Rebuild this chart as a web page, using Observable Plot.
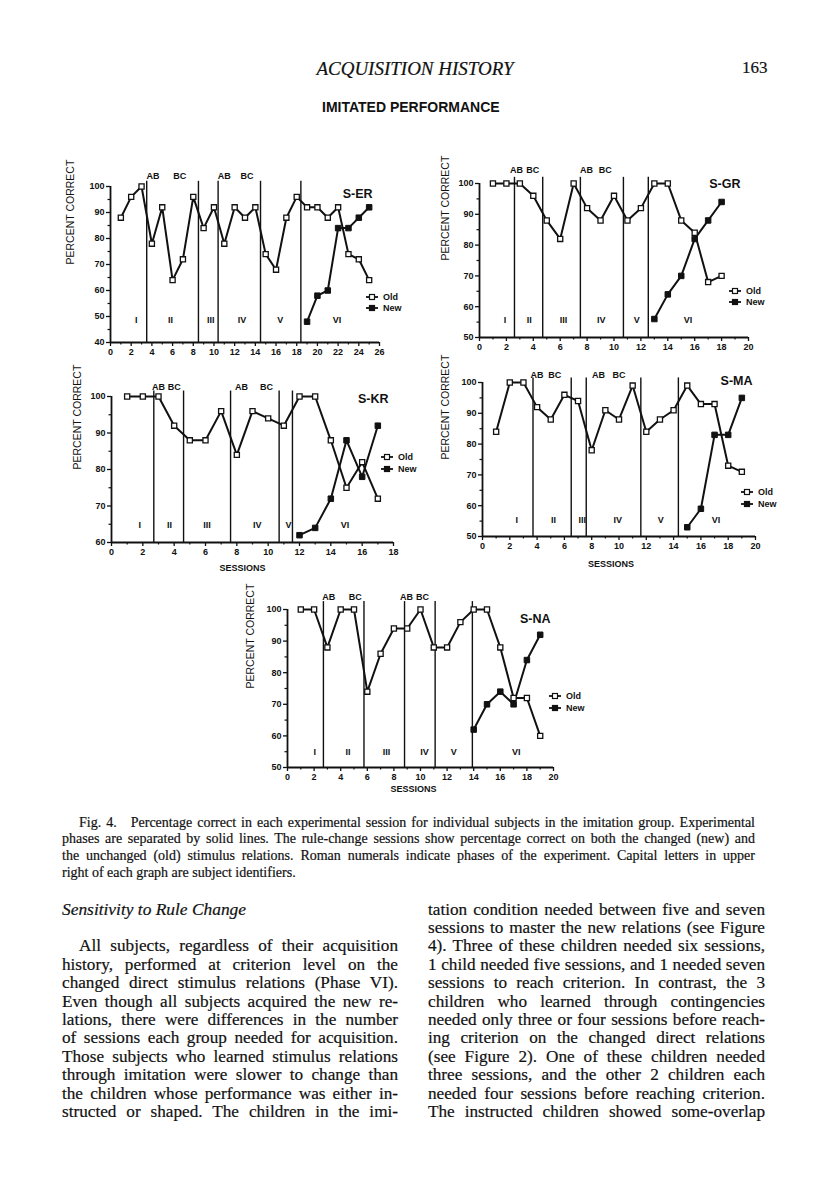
<!DOCTYPE html>
<html><head><meta charset="utf-8">
<script src="https://cdn.jsdelivr.net/npm/d3@7"></script>
<script src="https://cdn.jsdelivr.net/npm/@observablehq/plot@0.6"></script>
<style>
html,body{margin:0;padding:0;background:#fff;}
#page{position:relative;width:816px;height:1193px;overflow:hidden;background:#fff;color:#111;}
.t{position:absolute;white-space:nowrap;color:#111;}
.serif{font-family:"Liberation Serif","DejaVu Serif",serif;-webkit-text-stroke:0.2px #111;}
.sans{font-family:"Liberation Sans",Arial,sans-serif;}
.just{text-align:justify;text-align-last:justify;}
.panel{position:absolute;}
.legend{position:absolute;font-family:"Liberation Sans",Arial,sans-serif;font-size:9px;font-weight:bold;color:#111;}
.legend .row{position:absolute;left:0;white-space:nowrap;display:flex;align-items:center;}
</style></head><body><div id="page"></div>
<script>
// ---------- DATA ----------
const phaseNames = ["I", "II", "III", "IV", "V", "VI"];
const ruleNames = ["AB", "BC", "AB", "BC"];
const seriesNames = ["Old", "New"];

// S-ER
const erOldSessions = [1,2,3,4,5,6,7,8,9,10,11,12,13,14,15,16,17,18,19,20,21,22,23,24,25];
const erOldValues   = [88,96,100,78,92,64,72,96,84,92,78,92,88,92,74,68,88,96,92,92,88,92,74,72,64];
const erNewSessions = [19,20,21,22,23,24,25];
const erNewValues   = [48,58,60,84,84,88,92];
const erPhaseBounds = [3.5, 8.5, 10.4, 14.5, 18.4];
const erPhaseLabelX = [2.5, 5.8, 9.7, 12.7, 16.4, 21.9];
const erRuleLabelX  = [4.1, 6.7, 11.0, 13.2];
const erXTicks = [0,2,4,6,8,10,12,14,16,18,20,22,24,26];
const erYTicks = [40,50,60,70,80,90,100];

// S-GR
const grOldSessions = [1,2,3,4,5,6,7,8,9,10,11,12,13,14,15,16,17,18];
const grOldValues   = [100,100,100,96,88,82,100,92,88,96,88,92,100,100,88,84,68,70];
const grNewSessions = [13,14,15,16,17,18];
const grNewValues   = [56,64,70,82,88,94];
const grPhaseBounds = [2.6, 4.7, 7.5, 10.7, 12.55];
const grPhaseLabelX = [1.9, 3.7, 6.25, 9.05, 11.7, 15.5];
const grRuleLabelX  = [2.75, 3.95, 7.95, 9.35];
const grXTicks = [0,2,4,6,8,10,12,14,16,18,20];
const grYTicks = [50,60,70,80,90,100];

// S-KR
const krOldSessions = [1,2,3,4,5,6,7,8,9,10,11,12,13,14,15,16,17];
const krOldValues   = [100,100,100,92,88,88,96,84,96,94,92,100,100,88,75,82,72];
const krNewSessions = [12,13,14,15,16,17];
const krNewValues   = [62,64,72,88,78,92];
const krPhaseBounds = [2.7, 4.6, 7.6, 10.7, 11.55];
const krPhaseLabelX = [1.8, 3.7, 6.1, 9.3, 11.3, 14.9];
const krRuleLabelX  = [3.0, 4.0, 8.3, 9.9];
const krXTicks = [0,2,4,6,8,10,12,14,16,18];
const krYTicks = [60,70,80,90,100];

// S-MA
const maOldSessions = [1,2,3,4,5,6,7,8,9,10,11,12,13,14,15,16,17,18,19];
const maOldValues   = [84,100,100,92,88,96,94,78,91,88,99,84,88,91,99,93,93,73,71];
const maNewSessions = [15,16,17,18,19];
const maNewValues   = [53,59,83,83,95];
const maPhaseBounds = [3.7, 6.5, 7.6, 11.6, 14.35];
const maPhaseLabelX = [2.5, 5.2, 7.3, 9.9, 13.05, 17.1];
const maRuleLabelX  = [4.0, 5.3, 8.5, 10.0];
const maXTicks = [0,2,4,6,8,10,12,14,16,18,20];
const maYTicks = [50,60,70,80,90,100];

// S-NA
const naOldSessions = [1,2,3,4,5,6,7,8,9,10,11,12,13,14,15,16,17,18,19];
const naOldValues   = [100,100,88,100,100,74,86,94,94,100,88,88,96,100,100,88,72,72,60];
const naNewSessions = [14,15,16,17,18,19];
const naNewValues   = [62,70,74,70,84,92];
const naPhaseBounds = [2.7, 5.75, 8.8, 11.1, 13.9];
const naPhaseLabelX = [2.05, 4.55, 7.45, 10.3, 12.5, 17.2];
const naRuleLabelX  = [3.1, 5.1, 8.95, 10.15];
const naXTicks = [0,2,4,6,8,10,12,14,16,18,20];
const naYTicks = [50,60,70,80,90,100];

// text
const runningHead = "ACQUISITION HISTORY";
const pageNumber = "163";
const figureTitle = "IMITATED PERFORMANCE";
const yLabel = "PERCENT CORRECT";
const xLabel = "SESSIONS";
const captionLines = [
  "Fig. 4.\u2003Percentage correct in each experimental session for individual subjects in the imitation group. Experimental",
  "phases are separated by solid lines. The rule-change sessions show percentage correct on both the changed (new) and",
  "the unchanged (old) stimulus relations. Roman numerals indicate phases of the experiment. Capital letters in upper",
  "right of each graph are subject identifiers."
];
const sectionHeading = "Sensitivity to Rule Change";
const leftLines = [
  "All subjects, regardless of their acquisition",
  "history, performed at criterion level on the",
  "changed direct stimulus relations (Phase VI).",
  "Even though all subjects acquired the new re-",
  "lations, there were differences in the number",
  "of sessions each group needed for acquisition.",
  "Those subjects who learned stimulus relations",
  "through imitation were slower to change than",
  "the children whose performance was either in-",
  "structed or shaped. The children in the imi-"
];
const rightLines = [
  "tation condition needed between five and seven",
  "sessions to master the new relations (see Figure",
  "4). Three of these children needed six sessions,",
  "1 child needed five sessions, and 1 needed seven",
  "sessions to reach criterion. In contrast, the 3",
  "children who learned through contingencies",
  "needed only three or four sessions before reach-",
  "ing criterion on the changed direct relations",
  "(see Figure 2). One of these children needed",
  "three sessions, and the other 2 children each",
  "needed four sessions before reaching criterion.",
  "The instructed children showed some-overlap"
];

// ---------- LAYOUT ----------
const page = document.getElementById("page");

function addText(txt, o) {
  const d = document.createElement("div");
  d.className = "t " + (o.cls || "serif");
  const lh = Math.round(o.size * 1.2);
  d.style.fontSize = o.size + "px";
  d.style.lineHeight = lh + "px";
  d.style.top = (o.cy - lh / 2) + "px";
  if (o.italic) d.style.fontStyle = "italic";
  if (o.bold) d.style.fontWeight = "bold";
  if (o.center != null) {
    d.style.left = (o.center - 300) + "px";
    d.style.width = "600px";
    d.style.textAlign = "center";
  } else {
    d.style.left = o.left + "px";
  }
  if (o.width) { d.style.width = o.width + "px"; d.classList.add("just"); }
  d.textContent = txt;
  page.appendChild(d);
  return d;
}

addText(runningHead, {center: 415, cy: 68, size: 19, italic: true});
addText(pageNumber, {left: 742, cy: 68, size: 17});
addText(figureTitle, {left: 322, cy: 107, size: 14, cls: "sans", bold: true});

// caption
captionLines.forEach((s, i) => {
  const last = i === captionLines.length - 1;
  addText(s, {left: i === 0 ? 79 : 62, width: last ? null : (i === 0 ? 676 : 693), cy: 822 + i * 16.8, size: 14});
});

// body
const row0 = 909, rowH = 18.4;
addText(sectionHeading, {left: 62, cy: row0, size: 17.4, italic: true});
leftLines.forEach((s, i) => {
  addText(s, {left: i === 0 ? 79 : 62, width: i === 0 ? 319 : 336, cy: row0 + (i + 2) * rowH, size: 17.2});
});
rightLines.forEach((s, i) => {
  addText(s, {left: 428, width: 337, cy: row0 + i * rowH, size: 17.2});
});

// ---------- CHARTS ----------
function makePanel(p) {
  const mL = 52, mR = 32, mT = 30, mB = 36;
  const W = p.x1 - p.x0 + mL + mR, H = p.yBot - p.yTop + mT + mB;
  const oldData = p.oldS.map((s, i) => ({session: s, pct: p.oldV[i]}));
  const newData = p.newS.map((s, i) => ({session: s, pct: p.newV[i]}));
  const xMinor = d3.range(1, p.xMax, 2);
  const yMinor = d3.range(p.yMin + 5, 100, 10);
  const rules = p.ruleX.map((x, i) => ({x, label: ruleNames[i]}));
  const phases = p.phaseX.map((x, i) => ({x, label: phaseNames[i]}));
  const marks = [
    Plot.axisX({ticks: p.xTicks, tickSize: 4, tickPadding: 2, label: null, tickFormat: d => String(d), strokeWidth: 1.3, fontSize: 9}),
    Plot.axisX({ticks: xMinor, tickSize: 2.5, fill: "none", label: null, strokeWidth: 1.2}),
    Plot.axisY({ticks: p.yTicks, tickSize: 4, tickPadding: 2, label: null, tickFormat: d => String(d), strokeWidth: 1.3, fontSize: 9}),
    Plot.axisY({ticks: yMinor, tickSize: 2.5, fill: "none", label: null, strokeWidth: 1.2}),
    Plot.ruleY([p.yMin], {stroke: "#111", strokeWidth: 1.8}),
    Plot.ruleX([0], {y1: p.yMin, y2: 100, stroke: "#111", strokeWidth: 1.8}),
    Plot.ruleX(p.bounds, {x: d => d, y1: p.yMin, y2: p.lineTop, stroke: "#111", strokeWidth: 1.4}),
    Plot.line(oldData, {x: "session", y: "pct", stroke: "#111", strokeWidth: 2}),
    Plot.line(newData, {x: "session", y: "pct", stroke: "#111", strokeWidth: 2}),
    Plot.dot(oldData, {x: "session", y: "pct", symbol: "square", r: 2.9, fill: "white", stroke: "#111", strokeWidth: 1.3}),
    Plot.dot(newData, {x: "session", y: "pct", symbol: "square", r: 3.1, fill: "#111", stroke: "#111", strokeWidth: 1}),
    Plot.text(phases, {x: "x", text: "label", frameAnchor: "bottom", dy: -p.phaseDy, fontSize: 9, fontWeight: "bold"}),
    Plot.text(rules, {x: "x", text: "label", frameAnchor: "top", dy: -p.ruleDy, fontSize: 9, fontWeight: "bold"}),
    Plot.text([p.name], {text: d => d, frameAnchor: "top-right", textAnchor: "end", dx: p.nameDx, dy: p.nameDy, fontSize: 12.5, fontWeight: "bold"}),
    Plot.text([yLabel], {text: d => d, frameAnchor: "left", rotate: -90, dx: -p.yLabelOff, fontSize: 10.5, fontWeight: "normal"})
  ];
  if (p.sessions) {
    marks.push(Plot.text([xLabel], {text: d => d, frameAnchor: "bottom", dx: p.sessions[0], dy: p.sessions[1], fontSize: 9, fontWeight: "bold"}));
  }
  const chart = Plot.plot({
    width: W, height: H,
    marginLeft: mL, marginRight: mR, marginTop: mT, marginBottom: mB,
    x: {domain: [0, p.xMax]},
    y: {domain: [p.yMin, 100]},
    style: {fontFamily: "'Liberation Sans', Arial, sans-serif", fontSize: "9px", fontWeight: "bold", background: "transparent", overflow: "visible", color: "#111"},
    marks
  });
  const wrap = document.createElement("div");
  wrap.className = "panel";
  wrap.style.left = (p.x0 - mL) + "px";
  wrap.style.top = (p.yTop - mT) + "px";
  wrap.appendChild(chart);
  page.appendChild(wrap);

  // legend
  const lg = document.createElement("div");
  lg.className = "legend";
  lg.style.left = p.legend[0] + "px";
  lg.style.top = p.legend[1] + "px";
  seriesNames.forEach((nm, i) => {
    const row = document.createElement("div");
    row.className = "row";
    row.style.top = (i * p.legend[2] - 6) + "px";
    row.style.height = "12px";
    const filled = i === 1;
    row.innerHTML = `<svg width="12" height="8" style="margin-right:5px"><line x1="0" x2="12" y1="4" y2="4" stroke="#111" stroke-width="1.8"/><rect x="3.5" y="1.5" width="5" height="5" fill="${filled ? "#111" : "#fff"}" stroke="#111" stroke-width="1.2"/></svg><span>${nm}</span>`;
    lg.appendChild(row);
  });
  page.appendChild(lg);
}

makePanel({name: "S-ER", x0: 110, x1: 379, yTop: 186, yBot: 342, xMax: 26, yMin: 40, lineTop: 102,
  oldS: erOldSessions, oldV: erOldValues, newS: erNewSessions, newV: erNewValues,
  bounds: erPhaseBounds, phaseX: erPhaseLabelX, ruleX: erRuleLabelX, xTicks: erXTicks, yTicks: erYTicks,
  phaseDy: 20, ruleDy: 14, nameDx: -7, nameDy: 3, yLabelOff: 40, legend: [366, 297, 10.5]});
makePanel({name: "S-GR", x0: 479, x1: 748, yTop: 183, yBot: 337, xMax: 20, yMin: 50, lineTop: 102,
  oldS: grOldSessions, oldV: grOldValues, newS: grNewSessions, newV: grNewValues,
  bounds: grPhaseBounds, phaseX: grPhaseLabelX, ruleX: grRuleLabelX, xTicks: grXTicks, yTicks: grYTicks,
  phaseDy: 15, ruleDy: 17, nameDx: -8, nameDy: -4, yLabelOff: 34, legend: [729, 291, 11]});
makePanel({name: "S-KR", x0: 111, x1: 393, yTop: 396, yBot: 542, xMax: 18, yMin: 60, lineTop: 101.5,
  oldS: krOldSessions, oldV: krOldValues, newS: krNewSessions, newV: krNewValues,
  bounds: krPhaseBounds, phaseX: krPhaseLabelX, ruleX: krRuleLabelX, xTicks: krXTicks, yTicks: krYTicks,
  phaseDy: 15, ruleDy: 13, nameDx: -5, nameDy: -2, yLabelOff: 34, legend: [381, 457, 12], sessions: [-10, 28]});
makePanel({name: "S-MA", x0: 482, x1: 755, yTop: 382, yBot: 536, xMax: 20, yMin: 50, lineTop: 101.5,
  oldS: maOldSessions, oldV: maOldValues, newS: maNewSessions, newV: maNewValues,
  bounds: maPhaseBounds, phaseX: maPhaseLabelX, ruleX: maRuleLabelX, xTicks: maXTicks, yTicks: maYTicks,
  phaseDy: 14, ruleDy: 11, nameDx: -3, nameDy: -6, yLabelOff: 37, legend: [741, 492, 11.5], sessions: [-8, 30]});
makePanel({name: "S-NA", x0: 287, x1: 553, yTop: 609, yBot: 767, xMax: 20, yMin: 50, lineTop: 102.5,
  oldS: naOldSessions, oldV: naOldValues, newS: naNewSessions, newV: naNewValues,
  bounds: naPhaseBounds, phaseX: naPhaseLabelX, ruleX: naRuleLabelX, xTicks: naXTicks, yTicks: naYTicks,
  phaseDy: 13, ruleDy: 16, nameDx: -3, nameDy: 5, yLabelOff: 37, legend: [549, 696, 11.5], sessions: [-7, 24]});
</script></body></html>
